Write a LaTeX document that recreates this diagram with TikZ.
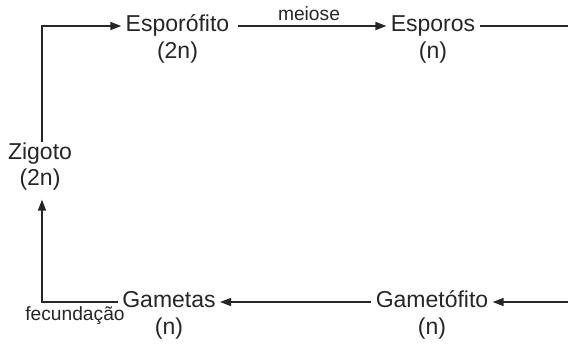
\documentclass[tikz,border=0pt]{standalone}
\usepackage{fontspec}
\setmainfont{Liberation Sans}
\usetikzlibrary{arrows.meta}
\definecolor{ink}{HTML}{262626}
\begin{document}
\begin{tikzpicture}[x=0.5pt,y=-0.5pt,
  lbl/.style={font=\fontsize{11.5}{13}\selectfont, text=ink, inner xsep=2pt, inner ysep=1pt,
              text height=0.72em, text depth=0.2em},
  sub/.style={lbl},
  small/.style={font=\fontsize{9.6}{11}\selectfont, text=ink, inner sep=0pt, anchor=base},
  conn/.style={draw=ink, line width=0.75pt},
  arr/.style={conn, -{Triangle[length=5.5pt,width=4pt]}}]
\useasboundingbox (0,0) rectangle (568,344);
% main nodes
\node[lbl] (esp) at (177.5,26) {Esporófito};
\node[lbl] (espn) at (177.5,53) {(2n)};
\node[lbl] (spo) at (433,26) {Esporos};
\node[lbl] (spon) at (433,53) {(n)};
\node[lbl] (zig) at (40,154) {Zigoto};
\node[lbl] (zign) at (40,180) {(2n)};
\node[lbl] (gam) at (169,302) {Gametas};
\node[lbl] (gamn) at (169,329) {(n)};
\node[lbl] (gfo) at (432,302) {Gametófito};
\node[lbl] (gfon) at (432,329) {(n)};
% labels
\node[small] (mei) at (309,20) {meiose};
\node[small] (fec) at (75,320) {fecundação};
% corners and free ends
\coordinate (tl) at (42,26);
\coordinate (bl) at (42,302);
\coordinate (tr) at (568,26);
\coordinate (br) at (568,302);
% connectors
\draw[arr] (zig.north -| tl) -- (tl) -- (esp.west);
\draw[arr] ([xshift=2pt]esp.east) -- (spo.west);
\draw[conn] (spo.east) -- (tr);
\draw[arr] (br) -- (gfo.east);
\draw[arr] (gfo.west) -- (gam.east);
\draw[arr] (gam.west) -- (bl) -- ([yshift=-4pt]zign.south -| bl);
\end{tikzpicture}
\end{document}
